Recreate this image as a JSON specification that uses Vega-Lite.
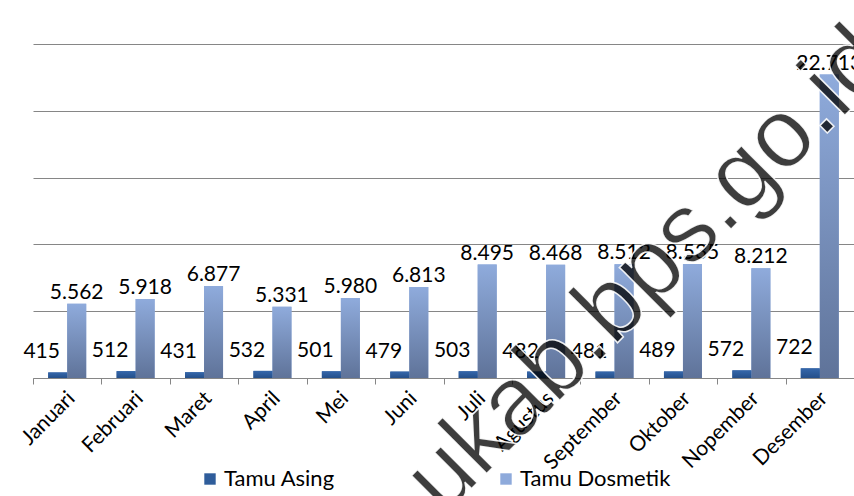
{
  "$schema": "https://vega.github.io/schema/vega-lite/v6.json",
  "width": 821,
  "height": 334,
  "autosize": {"type": "none"},
  "padding": {"left": 33, "top": 44, "right": 0, "bottom": 118},
  "background": "white",
  "config": {
    "locale": {"number": {"decimal": ",", "thousands": ".", "grouping": [3], "currency": ["Rp", ""]}},
    "view": {"stroke": null},
    "font": "Lato"
  },
  "data": {
    "values": [
      {"bulan": "Januari", "jenis": "Tamu Asing", "jumlah": 415},
      {"bulan": "Januari", "jenis": "Tamu Dosmetik", "jumlah": 5562},
      {"bulan": "Februari", "jenis": "Tamu Asing", "jumlah": 512},
      {"bulan": "Februari", "jenis": "Tamu Dosmetik", "jumlah": 5918},
      {"bulan": "Maret", "jenis": "Tamu Asing", "jumlah": 431},
      {"bulan": "Maret", "jenis": "Tamu Dosmetik", "jumlah": 6877},
      {"bulan": "April", "jenis": "Tamu Asing", "jumlah": 532},
      {"bulan": "April", "jenis": "Tamu Dosmetik", "jumlah": 5331},
      {"bulan": "Mei", "jenis": "Tamu Asing", "jumlah": 501},
      {"bulan": "Mei", "jenis": "Tamu Dosmetik", "jumlah": 5980},
      {"bulan": "Juni", "jenis": "Tamu Asing", "jumlah": 479},
      {"bulan": "Juni", "jenis": "Tamu Dosmetik", "jumlah": 6813},
      {"bulan": "Juli", "jenis": "Tamu Asing", "jumlah": 503},
      {"bulan": "Juli", "jenis": "Tamu Dosmetik", "jumlah": 8495},
      {"bulan": "Agustus", "jenis": "Tamu Asing", "jumlah": 482},
      {"bulan": "Agustus", "jenis": "Tamu Dosmetik", "jumlah": 8468},
      {"bulan": "September", "jenis": "Tamu Asing", "jumlah": 481},
      {"bulan": "September", "jenis": "Tamu Dosmetik", "jumlah": 8512},
      {"bulan": "Oktober", "jenis": "Tamu Asing", "jumlah": 489},
      {"bulan": "Oktober", "jenis": "Tamu Dosmetik", "jumlah": 8535},
      {"bulan": "Nopember", "jenis": "Tamu Asing", "jumlah": 572},
      {"bulan": "Nopember", "jenis": "Tamu Dosmetik", "jumlah": 8212},
      {"bulan": "Desember", "jenis": "Tamu Asing", "jumlah": 722},
      {"bulan": "Desember", "jenis": "Tamu Dosmetik", "jumlah": 22713}
    ]
  },
  "encoding": {
    "x": {
      "field": "bulan",
      "type": "nominal",
      "title": null,
      "scale": {
        "domain": ["Januari", "Februari", "Maret", "April", "Mei", "Juni", "Juli", "Agustus", "September", "Oktober", "Nopember", "Desember"],
        "paddingInner": 0,
        "paddingOuter": 0
      },
      "axis": {
        "tickBand": "extent",
        "tickSize": 6,
        "tickColor": "#868686",
        "domainColor": "#868686",
        "labelAngle": -45,
        "labelAlign": "right",
        "labelBaseline": "middle",
        "labelFontSize": 21,
        "labelFont": "Lato",
        "labelColor": "#000000",
        "labelPadding": 11,
        "labelOffset": 4
      }
    },
    "y": {
      "field": "jumlah",
      "type": "quantitative",
      "title": null,
      "scale": {"domain": [0, 25000], "nice": false},
      "axis": {
        "labels": false,
        "ticks": false,
        "domain": false,
        "grid": true,
        "values": [0, 5000, 10000, 15000, 20000, 25000],
        "gridColor": "#868686",
        "gridWidth": 1.2
      }
    }
  },
  "layer": [
    {
      "mark": {"type": "bar"},
      "encoding": {
        "xOffset": {"field": "jenis", "type": "nominal", "scale": {"paddingInner": 0, "paddingOuter": 0.8}},
        "color": {
          "field": "jenis",
          "type": "nominal",
          "scale": {"domain": ["Tamu Asing", "Tamu Dosmetik"], "range": ["#2f5d9b", "#8eaadb"]},
          "legend": {
            "orient": "none",
            "legendX": 166,
            "legendY": 424,
            "direction": "horizontal",
            "title": null,
            "symbolType": "square",
            "symbolSize": 130,
            "symbolStrokeWidth": 0,
            "labelFontSize": 22,
            "labelFont": "Lato",
            "labelColor": "#000000",
            "columnPadding": 160,
            "labelOffset": 3
          }
        }
      }
    },
    {
      "transform": [{"filter": "datum.jenis === 'Tamu Dosmetik'"}],
      "mark": {
        "type": "bar",
        "color": {
          "gradient": "linear", "x1": 0, "y1": 0, "x2": 0, "y2": 1,
          "stops": [{"offset": 0, "color": "#8fabdc"}, {"offset": 1, "color": "#5f7399"}]
        }
      },
      "encoding": {
        "xOffset": {"field": "jenis", "type": "nominal"}
      }
    },
    {
      "transform": [{"filter": "datum.jenis === 'Tamu Asing'"}],
      "mark": {
        "type": "bar",
        "color": {
          "gradient": "linear", "x1": 0, "y1": 0, "x2": 0, "y2": 1,
          "stops": [{"offset": 0, "color": "#3567ab"}, {"offset": 1, "color": "#244f8a"}]
        }
      },
      "encoding": {
        "xOffset": {"field": "jenis", "type": "nominal"}
      }
    },
    {
      "transform": [{"filter": "datum.jenis === 'Tamu Dosmetik'"}],
      "mark": {"type": "text", "baseline": "alphabetic", "dy": -5, "fontSize": 21, "font": "Lato", "color": "#000000"},
      "encoding": {
        "xOffset": {"field": "jenis", "type": "nominal"},
        "text": {"field": "jumlah", "type": "quantitative", "format": ",d"}
      }
    },
    {
      "transform": [{"filter": "datum.jenis === 'Tamu Asing'"}],
      "mark": {"type": "text", "baseline": "alphabetic", "dy": -14, "dx": -16, "fontSize": 21, "font": "Lato", "color": "#000000"},
      "encoding": {
        "xOffset": {"field": "jenis", "type": "nominal"},
        "text": {"field": "jumlah", "type": "quantitative", "format": ",d"}
      }
    },
    {
      "data": {"values": [{"bulan": "Oktober", "jumlah": 7545, "teks": "ukab.bps.go.id"}]},
      "mark": {
        "type": "text",
        "font": "Liberation Sans",
        "fontWeight": "normal",
        "fontSize": 98,
        "angle": -45,
        "align": "center",
        "baseline": "alphabetic",
        "dx": -20,
        "fill": "#000000",
        "fillOpacity": 0.76,
        "stroke": "#ffffff",
        "strokeWidth": 1.5,
        "strokeOpacity": 0.9
      },
      "encoding": {
        "text": {"field": "teks", "type": "nominal"}
      }
    }
  ]
}
